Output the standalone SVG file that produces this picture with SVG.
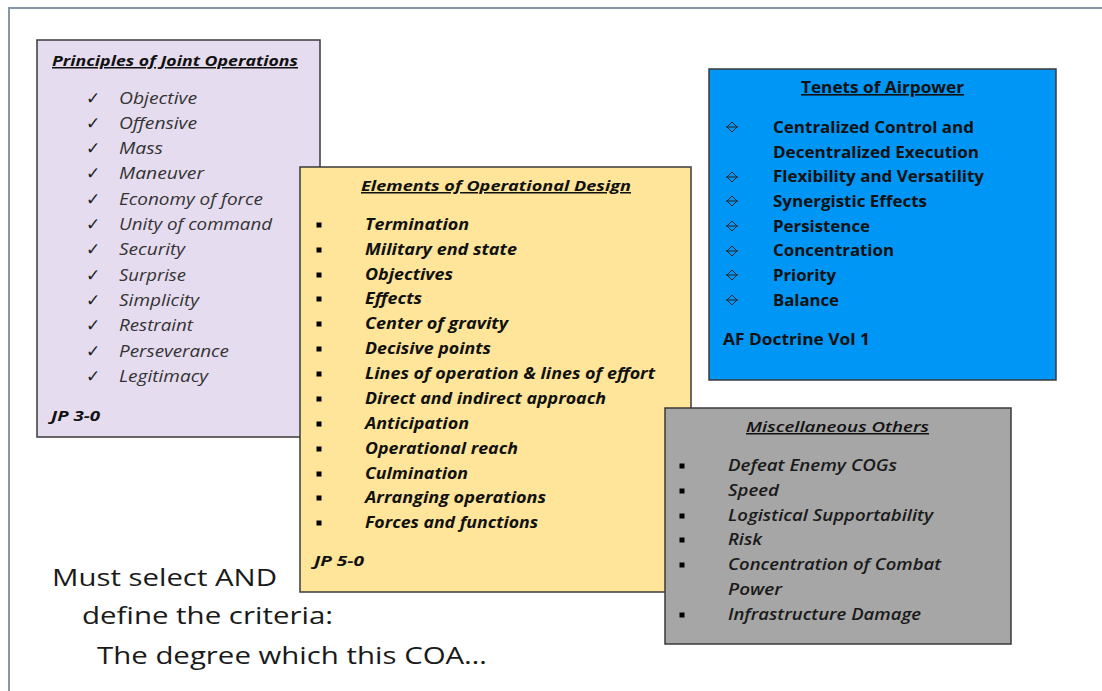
<svg xmlns="http://www.w3.org/2000/svg" width="1102" height="691" viewBox="0 0 1102 691">
<style>
text{font-family:"Open Sans",Lato,"Liberation Sans",sans-serif;}
.box{stroke:#3a3a3a;stroke-width:1.5;}
.title{font-size:15px;font-weight:bold;font-style:italic;text-decoration:underline;fill:#111;}
.chk{font-size:17px;fill:#222;font-family:"DejaVu Sans",sans-serif;}
.pi{font-size:16px;font-style:italic;fill:#333;}
.yi{font-size:16px;font-style:italic;font-weight:bold;fill:#111;}
.bi{font-size:16px;font-weight:bold;fill:#111;}
.gi{font-size:16px;font-style:italic;font-weight:600;fill:#1a1a1a;}
.src{font-size:14px;font-weight:bold;font-style:italic;fill:#111;}
.big{font-size:24px;fill:#1a1a1a;}
</style>
<defs>
<g id="sq"><rect x="-2.5" y="-2.5" width="5" height="5" fill="#000"/></g>
<g id="dm" fill="none" stroke="#222" stroke-width="1"><path d="M0,-5 L5,0 L0,5 L-5,0 Z M-6,0 H6"/></g>
</defs>
<rect width="1102" height="691" fill="#fff"/>
<path d="M9,691 V8 H1102" fill="none" stroke="#8797a8" stroke-width="2"/>

<g id="principles">
<rect class="box" x="37" y="40" width="283" height="397" fill="#e6dcef" stroke="#888"/>
<text class="title" x="52" y="66" textLength="246" lengthAdjust="spacingAndGlyphs">Principles of Joint Operations</text>
<g class="chk">
<text x="86" y="104">✓</text><text x="86" y="129">✓</text><text x="86" y="154">✓</text><text x="86" y="179">✓</text><text x="86" y="205">✓</text><text x="86" y="230">✓</text><text x="86" y="255">✓</text><text x="86" y="281">✓</text><text x="86" y="306">✓</text><text x="86" y="331">✓</text><text x="86" y="357">✓</text><text x="86" y="382">✓</text>
</g>
<g class="pi" lengthAdjust="spacingAndGlyphs">
<text x="119" y="104" textLength="78" lengthAdjust="spacingAndGlyphs">Objective</text>
<text x="119" y="129" textLength="78" lengthAdjust="spacingAndGlyphs">Offensive</text>
<text x="119" y="154" textLength="44" lengthAdjust="spacingAndGlyphs">Mass</text>
<text x="119" y="179" textLength="85" lengthAdjust="spacingAndGlyphs">Maneuver</text>
<text x="119" y="205" textLength="144" lengthAdjust="spacingAndGlyphs">Economy of force</text>
<text x="119" y="230" textLength="153" lengthAdjust="spacingAndGlyphs">Unity of command</text>
<text x="119" y="255" textLength="66" lengthAdjust="spacingAndGlyphs">Security</text>
<text x="119" y="281" textLength="67" lengthAdjust="spacingAndGlyphs">Surprise</text>
<text x="119" y="306" textLength="80" lengthAdjust="spacingAndGlyphs">Simplicity</text>
<text x="119" y="331" textLength="74" lengthAdjust="spacingAndGlyphs">Restraint</text>
<text x="119" y="357" textLength="110" lengthAdjust="spacingAndGlyphs">Perseverance</text>
<text x="119" y="382" textLength="89" lengthAdjust="spacingAndGlyphs">Legitimacy</text>
</g>
<text class="src" x="51" y="421" textLength="49" lengthAdjust="spacingAndGlyphs">JP 3-0</text>
</g>

<g id="design">
<rect class="box" x="300" y="167" width="391" height="425" fill="#fee599"/>
<text class="title" x="361" y="191" textLength="270" lengthAdjust="spacingAndGlyphs">Elements of Operational Design</text>
<g>
<use href="#sq" x="319" y="225"/><use href="#sq" x="319" y="250"/><use href="#sq" x="319" y="275"/><use href="#sq" x="319" y="299"/><use href="#sq" x="319" y="324"/><use href="#sq" x="319" y="349"/><use href="#sq" x="319" y="374"/><use href="#sq" x="319" y="399"/><use href="#sq" x="319" y="424"/><use href="#sq" x="319" y="449"/><use href="#sq" x="319" y="474"/><use href="#sq" x="319" y="498"/><use href="#sq" x="319" y="523"/>
</g>
<g class="yi">
<text x="365" y="230" textLength="104" lengthAdjust="spacingAndGlyphs">Termination</text>
<text x="365" y="255" textLength="152" lengthAdjust="spacingAndGlyphs">Military end state</text>
<text x="365" y="280" textLength="88" lengthAdjust="spacingAndGlyphs">Objectives</text>
<text x="365" y="304" textLength="57" lengthAdjust="spacingAndGlyphs">Effects</text>
<text x="365" y="329" textLength="143" lengthAdjust="spacingAndGlyphs">Center of gravity</text>
<text x="365" y="354" textLength="126" lengthAdjust="spacingAndGlyphs">Decisive points</text>
<text x="365" y="379" textLength="290" lengthAdjust="spacingAndGlyphs">Lines of operation &amp; lines of effort</text>
<text x="365" y="404" textLength="241" lengthAdjust="spacingAndGlyphs">Direct and indirect approach</text>
<text x="365" y="429" textLength="104" lengthAdjust="spacingAndGlyphs">Anticipation</text>
<text x="365" y="454" textLength="153" lengthAdjust="spacingAndGlyphs">Operational reach</text>
<text x="365" y="479" textLength="103" lengthAdjust="spacingAndGlyphs">Culmination</text>
<text x="365" y="503" textLength="181" lengthAdjust="spacingAndGlyphs">Arranging operations</text>
<text x="365" y="528" textLength="173" lengthAdjust="spacingAndGlyphs">Forces and functions</text>
</g>
<text class="src" x="314" y="566" textLength="50" lengthAdjust="spacingAndGlyphs">JP 5-0</text>
</g>

<g id="airpower">
<rect class="box" x="709" y="69" width="347" height="311" fill="#0096f5"/>
<text class="bi" x="801" y="93" text-decoration="underline" textLength="163" lengthAdjust="spacingAndGlyphs">Tenets of Airpower</text>
<g>
<use href="#dm" x="732" y="127"/><use href="#dm" x="732" y="177"/><use href="#dm" x="732" y="201"/><use href="#dm" x="732" y="226"/><use href="#dm" x="732" y="251"/><use href="#dm" x="732" y="275"/><use href="#dm" x="732" y="300"/>
</g>
<g class="bi">
<text x="773" y="133" textLength="201" lengthAdjust="spacingAndGlyphs">Centralized Control and</text>
<text x="773" y="158" textLength="206" lengthAdjust="spacingAndGlyphs">Decentralized Execution</text>
<text x="773" y="182" textLength="211" lengthAdjust="spacingAndGlyphs">Flexibility and Versatility</text>
<text x="773" y="207" textLength="154" lengthAdjust="spacingAndGlyphs">Synergistic Effects</text>
<text x="773" y="232" textLength="97" lengthAdjust="spacingAndGlyphs">Persistence</text>
<text x="773" y="256" textLength="121" lengthAdjust="spacingAndGlyphs">Concentration</text>
<text x="773" y="281" textLength="63" lengthAdjust="spacingAndGlyphs">Priority</text>
<text x="773" y="306" textLength="66" lengthAdjust="spacingAndGlyphs">Balance</text>
</g>
<text class="bi" x="723" y="345" textLength="147" lengthAdjust="spacingAndGlyphs">AF Doctrine Vol 1</text>
</g>

<g id="misc">
<rect class="box" x="665" y="408" width="346" height="236" fill="#a6a6a6"/>
<text class="title" x="746" y="432" style="font-weight:600" textLength="183" lengthAdjust="spacingAndGlyphs">Miscellaneous Others</text>
<g>
<use href="#sq" x="682" y="466"/><use href="#sq" x="682" y="491"/><use href="#sq" x="682" y="516"/><use href="#sq" x="682" y="540"/><use href="#sq" x="682" y="565"/><use href="#sq" x="682" y="615"/>
</g>
<g class="gi">
<text x="728" y="471" textLength="169" lengthAdjust="spacingAndGlyphs">Defeat Enemy COGs</text>
<text x="728" y="496" textLength="51" lengthAdjust="spacingAndGlyphs">Speed</text>
<text x="728" y="521" textLength="205" lengthAdjust="spacingAndGlyphs">Logistical Supportability</text>
<text x="728" y="545" textLength="34" lengthAdjust="spacingAndGlyphs">Risk</text>
<text x="728" y="570" textLength="213" lengthAdjust="spacingAndGlyphs">Concentration of Combat</text>
<text x="728" y="595" textLength="54" lengthAdjust="spacingAndGlyphs">Power</text>
<text x="728" y="620" textLength="193" lengthAdjust="spacingAndGlyphs">Infrastructure Damage</text>
</g>
</g>

<g id="criteria" class="big">
<text x="52" y="586" textLength="225" lengthAdjust="spacingAndGlyphs">Must select AND</text>
<text x="82" y="624" textLength="251" lengthAdjust="spacingAndGlyphs">define the criteria:</text>
<text x="97" y="664" textLength="390" lengthAdjust="spacingAndGlyphs">The degree which this COA…</text>
</g>
</svg>
